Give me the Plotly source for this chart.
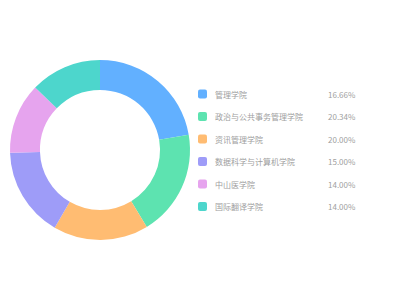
import plotly.graph_objects as go

categories = ["管理学院", "政治与公共事务管理学院", "资讯管理学院", "数据科学与计算机学院", "中山医学院", "国际翻译学院"]
values = [22.3, 19.0, 17.1, 16.1, 12.7, 12.8]
pct_labels = ["16.66%", "20.34%", "20.00%", "15.00%", "14.00%", "14.00%"]
colors = ["#62b0ff", "#5de3b0", "#ffbc72", "#9e9cf8", "#e6a4ee", "#4dd6cc"]

fig = go.Figure()
fig.add_trace(go.Pie(
    labels=categories, values=values, hole=0.667, sort=False,
    direction="clockwise", rotation=0,
    marker=dict(colors=colors, line=dict(width=0)),
    textinfo="none", hoverinfo="label+percent",
    domain=dict(x=[0.025, 0.475], y=[0.2, 0.8]),
    showlegend=False,
))

W, H = 400, 300
row0, step = 94, 22.5
font = dict(family="Noto Sans CJK SC", size=8, color="#a0a0a0")


def rounded_rect(x0, y0, x1, y1, r):
    # pixel coords -> paper coords path
    def px(x):
        return x / W

    def py(y):
        return 1 - y / H

    return (f"M {px(x0 + r)},{py(y0)} L {px(x1 - r)},{py(y0)} "
            f"Q {px(x1)},{py(y0)} {px(x1)},{py(y0 + r)} L {px(x1)},{py(y1 - r)} "
            f"Q {px(x1)},{py(y1)} {px(x1 - r)},{py(y1)} L {px(x0 + r)},{py(y1)} "
            f"Q {px(x0)},{py(y1)} {px(x0)},{py(y1 - r)} L {px(x0)},{py(y0 + r)} "
            f"Q {px(x0)},{py(y0)} {px(x0 + r)},{py(y0)} Z")


for i, (c, p, col) in enumerate(zip(categories, pct_labels, colors)):
    y = row0 + i * step
    fig.add_shape(type="path", xref="paper", yref="paper",
                  path=rounded_rect(198, y - 4.5, 207, y + 4.5, 2),
                  fillcolor=col, line=dict(width=0))
    fig.add_annotation(x=213 / W, y=1 - y / H, xref="paper", yref="paper",
                       text=c, showarrow=False, xanchor="left", yanchor="middle", font=font)
    fig.add_annotation(x=358 / W, y=1 - y / H, xref="paper", yref="paper",
                       text=p, showarrow=False, xanchor="right", yanchor="middle", font=font)

fig.update_layout(width=W, height=H, margin=dict(l=0, r=0, t=0, b=0),
                  paper_bgcolor="white", plot_bgcolor="white")
fig.write_html("out.html")
